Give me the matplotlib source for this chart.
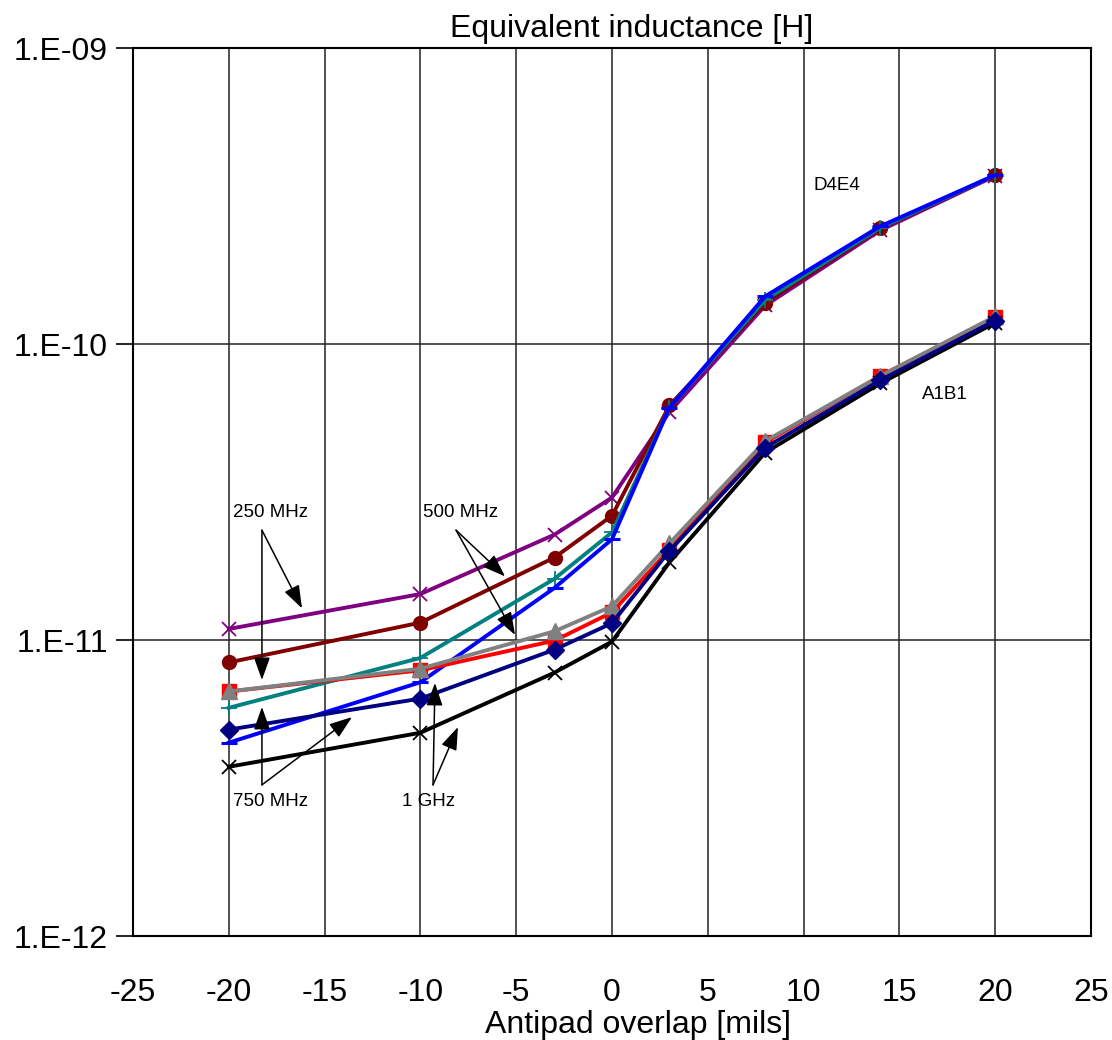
import numpy as np
import matplotlib.pyplot as plt
from matplotlib.ticker import FixedLocator, FuncFormatter, NullLocator

plt.rcParams['font.family'] = ['Liberation Sans', 'DejaVu Sans']
plt.rcParams['axes.unicode_minus'] = False

overlap = [-20, -10, -3, 0, 3, 8, 14, 20]

# D4E4 group
d4e4_250 = [1.09e-11, 1.43e-11, 2.27e-11, 3.03e-11, 5.9e-11, 1.35e-10, 2.42e-10, 3.7e-10]
d4e4_500 = [8.4e-12, 1.145e-11, 1.90e-11, 2.63e-11, 6.2e-11, 1.38e-10, 2.46e-10, 3.72e-10]
d4e4_750 = [5.9e-12, 8.7e-12, 1.61e-11, 2.31e-11, 6.1e-11, 1.41e-10, 2.47e-10, 3.72e-10]
d4e4_1g = [4.5e-12, 7.2e-12, 1.50e-11, 2.19e-11, 6.1e-11, 1.45e-10, 2.5e-10, 3.72e-10]

# A1B1 group
a1b1_250 = [6.7e-12, 7.9e-12, 9.95e-12, 1.24e-11, 2.02e-11, 4.65e-11, 7.8e-11, 1.23e-10]
a1b1_500 = [6.7e-12, 8.0e-12, 1.07e-11, 1.30e-11, 2.12e-11, 4.7e-11, 7.8e-11, 1.24e-10]
a1b1_750 = [4.98e-12, 6.34e-12, 9.28e-12, 1.14e-11, 2.0e-11, 4.47e-11, 7.54e-11, 1.2e-10]
a1b1_1g = [3.73e-12, 4.86e-12, 7.76e-12, 9.88e-12, 1.83e-11, 4.3e-11, 7.36e-11, 1.18e-10]

fig = plt.figure(figsize=(11.12, 10.4), dpi=100)
ax = fig.add_axes([0.1196, 0.1, 0.8615, 0.8538])

lw = 2.8
ax.plot(overlap, d4e4_250, color='#800080', marker='x', ms=10, mew=1.3, lw=lw)
ax.plot(overlap, d4e4_500, color='#800000', marker='o', ms=10, lw=lw)
ax.plot(overlap, d4e4_750, color='#008080', marker='+', ms=11, mew=1.3, lw=lw)
ax.plot(overlap, d4e4_1g, color='#0000FF', marker='_', ms=11, mew=2.2, lw=lw)

ax.plot(overlap, a1b1_250, color='#FF0000', marker='s', ms=10, lw=lw)
ax.plot(overlap, a1b1_500, color='#808080', marker='^', ms=11, lw=lw)
ax.plot(overlap, a1b1_1g, color='#000000', marker='x', ms=10, mew=1.3, lw=lw)
ax.plot(overlap, a1b1_750, color='#000080', marker='D', ms=9, lw=lw)

ax.set_yscale('log')
ax.set_ylim(1e-12, 1e-9)
ax.set_xlim(-25, 25)
ax.set_xticks(np.arange(-25, 26, 5))
ax.yaxis.set_major_locator(FixedLocator([1e-12, 1e-11, 1e-10, 1e-9]))
ax.yaxis.set_minor_locator(NullLocator())
ax.yaxis.set_major_formatter(FuncFormatter(lambda v, p: '1.E-%02d' % -int(round(np.log10(v)))))
ax.tick_params(axis='x', length=0, labelsize=23, pad=30)
ax.tick_params(axis='y', length=12, width=1.2, labelsize=23, pad=6)
ax.grid(True, color='#222222', lw=1.1)
for s in ax.spines.values():
    s.set_linewidth(1.5)

ax.set_title('Equivalent inductance [H]', fontsize=23, pad=8, x=0.52)
ax.set_xlabel('Antipad overlap [mils]', fontsize=23, labelpad=2, x=0.527)

arrow = dict(arrowstyle='-|>,head_length=1.4,head_width=0.5', color='black', lw=1.1,
             shrinkA=0, shrinkB=0)
labels = [
    ('250 MHz', (-17.8, 2.69e-11), (-18.27, 2.35e-11), [(-16.18, 1.28e-11), (-18.27, 7.33e-12)]),
    ('500 MHz', (-7.93, 2.69e-11), (-8.14, 2.35e-11), [(-5.58, 1.64e-11), (-5.06, 1.04e-11)]),
    ('750 MHz', (-17.8, 2.84e-12), (-18.27, 3.24e-12), [(-18.27, 5.94e-12), (-13.57, 5.49e-12)]),
    ('1 GHz', (-9.6, 2.84e-12), (-9.34, 3.24e-12), [(-9.24, 7.16e-12), (-8.04, 5.08e-12)]),
]
for txt, pos, start, ends in labels:
    ax.text(pos[0], pos[1], txt, fontsize=13.5, ha='center', va='center')
    for e in ends:
        ax.annotate('', xy=e, xytext=start, arrowprops=arrow)

ax.text(11.72, 3.42e-10, 'D4E4', fontsize=13.5, ha='center', va='center')
ax.text(17.38, 6.73e-11, 'A1B1', fontsize=13.5, ha='center', va='center')

fig.savefig('out.png', dpi=100)
